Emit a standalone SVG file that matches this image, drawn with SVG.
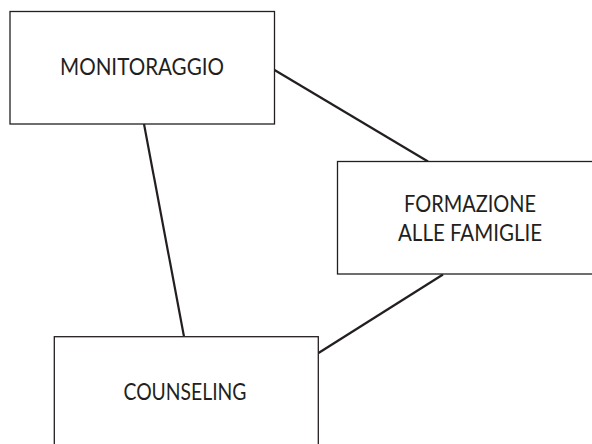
<svg xmlns="http://www.w3.org/2000/svg" width="592" height="444" viewBox="0 0 592 444">
<style>
.box{fill:#fff;stroke:#231f20;stroke-width:1.3}
.lbl{font-family:Lato,"Open Sans",sans-serif;font-size:24px;fill:#231f20;text-anchor:middle}
.edge{stroke:#231f20;stroke-width:2.2;fill:none}
</style>
<rect width="592" height="444" fill="#fff"/>
<g id="connectors">
<line class="edge" x1="274.5" y1="70" x2="428" y2="161.5"/>
<line class="edge" x1="144" y1="124" x2="184" y2="336.5"/>
<line class="edge" x1="443" y1="274.5" x2="318.5" y2="353"/>
</g>
<g id="monitoraggio">
<rect class="box" x="10" y="11.5" width="264.5" height="112.5"/>
<text class="lbl" x="142" y="75" textLength="164" lengthAdjust="spacingAndGlyphs">MONITORAGGIO</text>
</g>
<g id="formazione">
<rect class="box" x="337.5" y="161.5" width="270" height="112.5"/>
<text class="lbl" x="470" y="211.5" textLength="132" lengthAdjust="spacingAndGlyphs">FORMAZIONE</text>
<text class="lbl" x="470" y="241" textLength="144" lengthAdjust="spacingAndGlyphs">ALLE FAMIGLIE</text>
</g>
<g id="counseling">
<rect class="box" x="54.3" y="336.7" width="264" height="120"/>
<text class="lbl" x="185" y="400" textLength="123" lengthAdjust="spacingAndGlyphs">COUNSELING</text>
</g>
</svg>
